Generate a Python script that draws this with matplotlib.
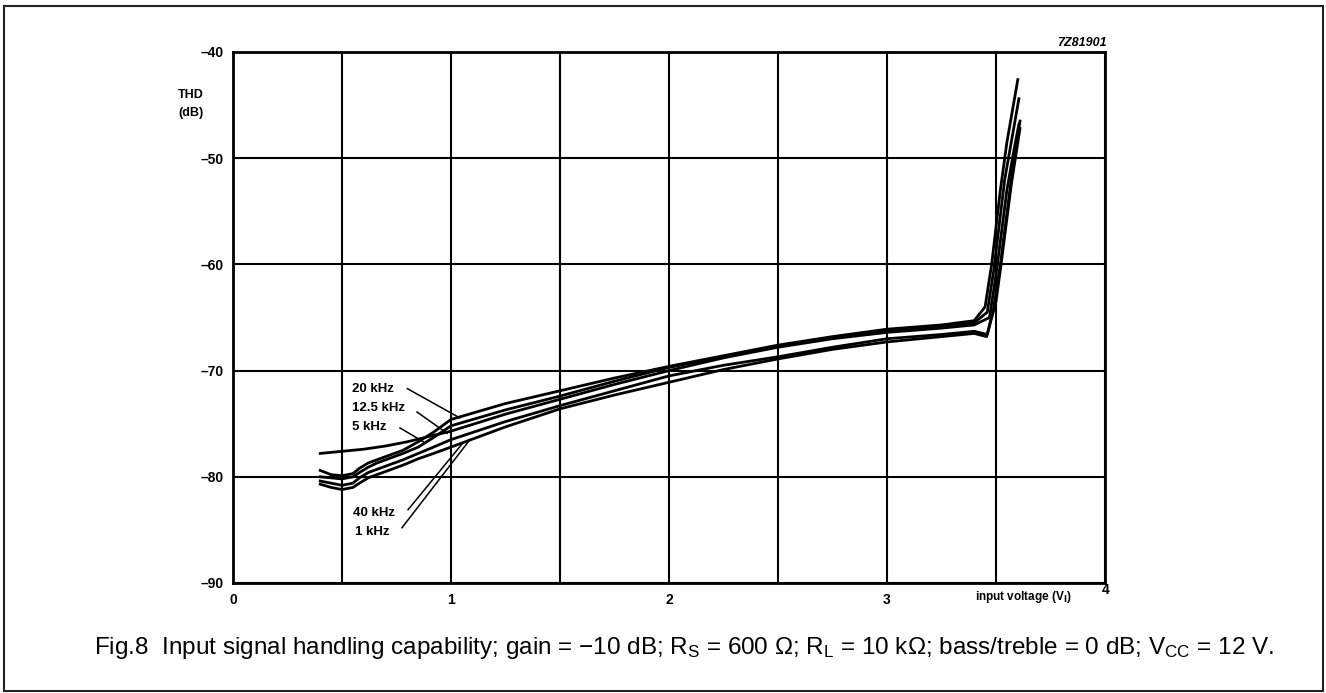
import matplotlib.pyplot as plt
from matplotlib.patches import Rectangle

plt.rcParams['font.family'] = ['Liberation Sans', 'DejaVu Sans']
plt.rcParams['mathtext.fontset'] = 'custom'
plt.rcParams['mathtext.rm'] = 'Liberation Sans'
plt.rcParams['mathtext.it'] = 'Liberation Sans:italic'

# curves: input voltage (V) vs THD (dB)
v_20k = [0.40, 0.45, 0.50, 0.55, 0.58, 0.62, 0.66, 0.70, 0.78, 0.85, 0.92, 1.00, 1.25, 1.50, 1.75,
         2.00, 2.25, 2.50, 2.75, 3.00, 3.25, 3.40, 3.45, 3.48, 3.52, 3.55, 3.60]
thd_20k = [-79.4, -79.8, -79.9, -79.7, -79.2, -78.7, -78.4, -78.1, -77.5, -76.7, -75.8, -74.6, -73.1, -71.9, -70.7,
           -69.6, -68.6, -67.6, -66.8, -66.1, -65.7, -65.3, -64.0, -60.0, -53.0, -48.5, -42.6]

v_12k5 = [0.40, 0.45, 0.50, 0.55, 0.58, 0.62, 0.66, 0.70, 0.78, 0.85, 0.92, 1.00, 1.25, 1.50, 1.75,
          2.00, 2.25, 2.50, 2.75, 3.00, 3.25, 3.40, 3.46, 3.49, 3.54, 3.57, 3.605]
thd_12k5 = [-80.0, -80.1, -80.2, -80.0, -79.6, -79.1, -78.7, -78.4, -77.8, -77.2, -76.3, -75.2, -73.7, -72.4, -71.0,
            -69.7, -68.7, -67.7, -66.9, -66.3, -65.9, -65.5, -64.5, -60.5, -52.0, -48.5, -44.4]

v_5k = [0.40, 0.50, 0.60, 0.70, 0.80, 0.90, 1.00, 1.25, 1.50, 1.75, 2.00, 2.25, 2.50, 2.75, 3.00,
        3.25, 3.40, 3.47, 3.50, 3.55, 3.58, 3.605]
thd_5k = [-77.8, -77.6, -77.4, -77.1, -76.7, -76.2, -75.7, -74.1, -72.7, -71.3, -70.0, -68.8, -67.8, -67.0, -66.4,
          -66.0, -65.7, -65.0, -61.0, -53.0, -49.5, -46.8]

v_40k = [0.40, 0.45, 0.50, 0.55, 0.58, 0.62, 0.66, 0.70, 0.78, 0.85, 0.92, 1.00, 1.25, 1.50, 1.75,
         2.00, 2.25, 2.50, 2.75, 3.00, 3.25, 3.40, 3.46, 3.49, 3.52, 3.57, 3.61]
thd_40k = [-80.4, -80.6, -80.8, -80.6, -80.1, -79.6, -79.3, -79.0, -78.4, -77.8, -77.2, -76.5, -74.8, -73.3, -71.9,
           -70.5, -69.5, -68.7, -67.8, -67.0, -66.6, -66.3, -66.6, -64.0, -60.0, -52.0, -46.5]

v_1k = [0.40, 0.45, 0.50, 0.55, 0.58, 0.62, 0.66, 0.70, 0.78, 0.85, 0.92, 1.00, 1.25, 1.50, 1.75,
        2.00, 2.25, 2.50, 2.75, 3.00, 3.25, 3.40, 3.457, 3.50, 3.52, 3.57, 3.61]
thd_1k = [-80.7, -81.0, -81.2, -81.0, -80.6, -80.1, -79.8, -79.5, -78.9, -78.3, -77.8, -77.2, -75.3, -73.6, -72.3,
          -71.1, -69.9, -68.9, -68.0, -67.3, -66.8, -66.5, -66.8, -63.5, -60.5, -52.5, -47.2]

# curve labels: text position, leader start, leader end
labels = ['20 kHz', '12.5 kHz', '5 kHz', '40 kHz', '1 kHz']
label_xy = [(0.546, -71.7), (0.546, -73.5), (0.546, -75.3), (0.55, -83.4), (0.56, -85.2)]
leader_from = [(0.80, -71.7), (0.844, -73.9), (0.766, -75.4), (0.803, -83.1), (0.775, -84.8)]
leader_to = [(1.04, -74.45), (0.982, -75.9), (0.881, -76.8), (1.055, -76.8), (1.087, -76.5)]

y_ticks = [-90, -80, -70, -60, -50, -40]

fig = plt.figure(figsize=(13.26, 6.93), dpi=100)
ax = fig.add_axes([233 / 1326, 1 - 583 / 693, (1105 - 233) / 1326, (583 - 52) / 693])

for v, thd in [(v_20k, thd_20k), (v_12k5, thd_12k5), (v_5k, thd_5k), (v_40k, thd_40k), (v_1k, thd_1k)]:
    ax.plot(v, thd, color='black', lw=2.0, solid_joinstyle='round', zorder=3)

for lab, xy, p0, p1 in zip(labels, label_xy, leader_from, leader_to):
    ax.text(xy[0], xy[1], lab, fontsize=9.5, fontweight='bold', ha='left', va='center', zorder=4)
    ax.plot([p0[0], p1[0]], [p0[1], p1[1]], color='black', lw=1.1, zorder=4)

ax.set_xlim(0, 4)
ax.set_ylim(-90, -40)
ax.set_xticks([x * 0.5 for x in range(9)])
ax.set_xticklabels(['0', '', '1', '', '2', '', '3', '', ''])
ax.set_yticks(y_ticks)
ax.set_yticklabels(['\u201390', '\u201380', '\u201370', '\u201360', '\u201350', '\u201340'])
ax.grid(True, color='black', lw=1.5)
ax.tick_params(length=0, labelsize=10, pad=7)
ax.tick_params(axis='x', pad=7)
for lab in ax.get_xticklabels() + ax.get_yticklabels():
    lab.set_fontweight('bold')
for spine in ax.spines.values():
    spine.set_linewidth(2.0)

# the "4" sits a little higher than the other x labels
fig.text(1106 / 1326, 1 - 590 / 693, '4', fontsize=10, fontweight='bold', ha='center', va='center')
fig.text(178 / 1326, 1 - 95 / 693, 'THD', fontsize=9, fontweight='bold', ha='left', va='center')
fig.text(178 / 1326, 1 - 113 / 693, '(dB)', fontsize=9, fontweight='bold', ha='left', va='center')
fig.text(1107 / 1326, 1 - 43 / 693, '7Z81901', fontsize=9, fontweight='bold', style='italic',
         ha='right', va='center')
fig.text(1072 / 1326, 1 - 597 / 693, r'input voltage (V$_\mathbf{I}$)', fontsize=8.5, fontweight='bold',
         ha='right', va='center')

fig.text(1274 / 1326, 1 - 648 / 693,
         'Fig.8  Input signal handling capability; gain = \u221210 dB; R$_\mathrm{S}$ = 600 \u03a9; '
         'R$_\mathrm{L}$ = 10 k\u03a9; bass/treble = 0 dB; V$_\mathrm{CC}$ = 12 V.',
         fontsize=17.5, ha='right', va='center')

fig.patches.append(Rectangle((4 / 1326, 1 - 691 / 693), 1319 / 1326, 685 / 693, transform=fig.transFigure,
                             fill=False, edgecolor='#222222', lw=1.5))

plt.savefig('out.png', dpi=100)
